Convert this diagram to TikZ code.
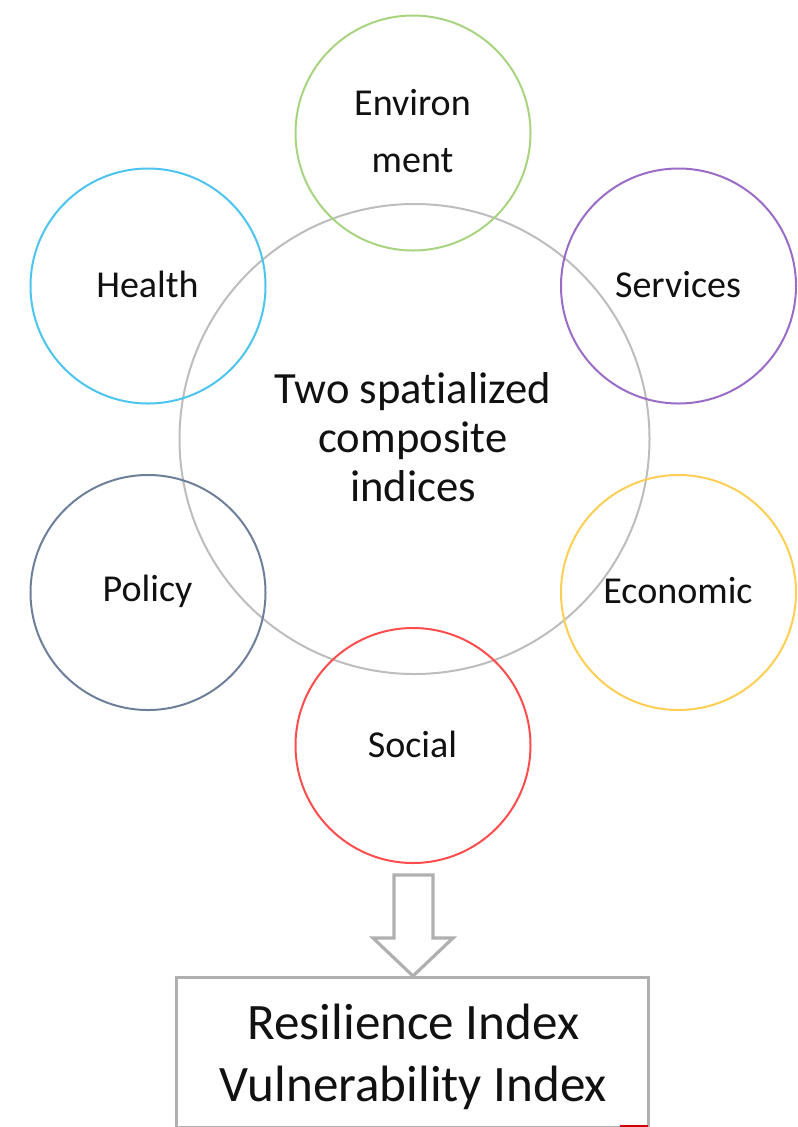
\documentclass[tikz,border=0pt]{standalone}
\usepackage{fontspec}
\setmainfont[Ligatures=NoCommon]{Carlito}
\definecolor{cgray}{HTML}{BDBDBD}
\definecolor{cgreen}{HTML}{A9D47F}
\definecolor{cblue}{HTML}{4CC4F0}
\definecolor{cpurple}{HTML}{9A6CC8}
\definecolor{cnavy}{HTML}{6E7F99}
\definecolor{cyellow}{HTML}{FFCF55}
\definecolor{cred}{HTML}{FF4D4D}
\definecolor{arrowgray}{HTML}{B0B0B0}
\definecolor{txt}{HTML}{111111}
\tikzset{
  x=1bp,y=-1bp,
  sat/.style={circle,line width=2bp,minimum size=235bp,inner sep=0pt},
  sattext/.style={inner sep=0pt,align=center,text=txt,font=\fontsize{38.2}{58}\selectfont},
  core/.style={circle,draw=cgray,line width=2bp,minimum size=470bp,inner sep=0pt},
  coretext/.style={inner sep=0pt,align=center,text=txt,font=\fontsize{44.8}{49}\selectfont},
  result/.style={draw=arrowgray,line width=3bp,minimum width=472bp,minimum height=150bp,inner sep=0pt},
  resulttext/.style={inner sep=0pt,align=center,text=txt,font=\fontsize{51.3}{62}\selectfont},
  blockarrow/.style={draw=arrowgray,line width=3.2bp,line join=miter}
}
\begin{document}
\begin{tikzpicture}
\useasboundingbox (0,0) rectangle (798,1127);
\node[core] (core) at (414.5,439) {};
\node[sat,draw=cgreen] (env) at (413,133) {};
\node[sat,draw=cblue] (health) at (148,286) {};
\node[sat,draw=cpurple] (serv) at (678.5,286) {};
\node[sat,draw=cnavy] (policy) at (148,592.5) {};
\node[sat,draw=cyellow] (econ) at (678.5,592.5) {};
\node[sat,draw=cred] (social) at (413,745.5) {};
\node[result] (res) at (412.5,1052) {};
\node[coretext,xshift=-1.5bp,yshift=2bp] (coret) at (core) {Two spatialized\\composite\\indices};
\node[sattext,yshift=2bp,xshift=-0.5bp] (envt) at (env) {Environ\\ment};
\node[sattext,yshift=2bp,xshift=-0.5bp] (healtht) at (health) {Health};
\node[sattext,yshift=1bp,xshift=-0.5bp] (servt) at (serv) {Services};
\node[sattext,yshift=1bp,xshift=-0.5bp] (policyt) at (policy) {Policy};
\node[sattext,yshift=2bp,xshift=-0.5bp] (econt) at (econ) {Economic};
\node[sattext,yshift=1bp,xshift=-0.5bp] (socialt) at (social) {Social};
\node[resulttext,yshift=-5bp,xshift=1bp] (rest) at (res) {Resilience Index\\Vulnerability Index};
\draw[blockarrow] (394,875) -- (433,875) -- (433,938) -- (453,938) -- (413,976) -- (373,938) -- (394,938) -- cycle;
\fill[red!80!black] (620,1124.5) rectangle (648,1127);
\end{tikzpicture}
\end{document}
